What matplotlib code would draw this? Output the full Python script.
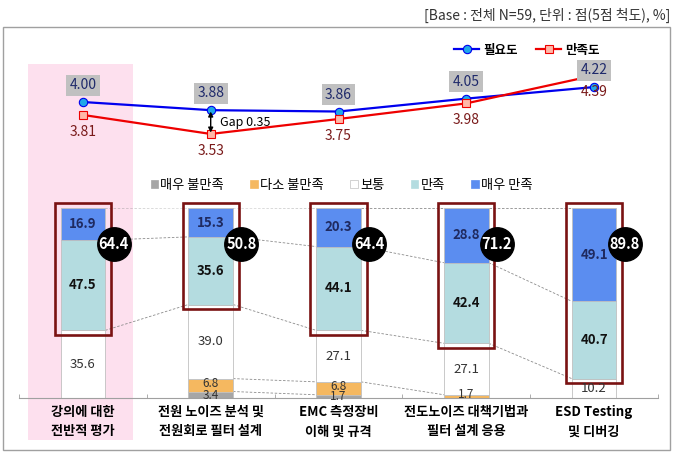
import matplotlib
matplotlib.use("Agg")
import matplotlib.pyplot as plt
import numpy as np
from matplotlib.patches import Rectangle, Patch
import matplotlib.transforms as mtransforms

plt.rcParams['font.family'] = ['Noto Sans CJK KR', 'DejaVu Sans']

# data
categories = ["강의에 대한\n전반적 평가", "전원 노이즈 분석 및\n전원회로 필터 설계",
              "EMC 측정장비\n이해 및 규격", "전도노이즈 대책기법과\n필터 설계 응용",
              "ESD Testing\n및 디버깅"]
need = [4.00, 3.88, 3.86, 4.05, 4.22]
satis = [3.81, 3.53, 3.75, 3.98, 4.39]

series_names = ["매우 불만족", "다소 불만족", "보통", "만족", "매우 만족"]
very_bad = [0, 3.4, 1.7, 0, 0]
bad = [0, 6.8, 6.8, 1.7, 0]
normal = [35.6, 39.0, 27.1, 27.1, 10.2]
good = [47.5, 35.6, 44.1, 42.4, 40.7]
very_good = [16.9, 15.3, 20.3, 28.8, 49.1]
top2 = [64.4, 50.8, 64.4, 71.2, 89.8]

colors = ["#A6A6A6", "#F5B860", "#FFFFFF", "#B4DCE0", "#5B8DF0"]

W, H = 687, 471
fig = plt.figure(figsize=(W / 100, H / 100), dpi=100)

def box(l, t, r, b):
    return [l / W, 1 - b / H, (r - l) / W, (b - t) / H]

# outer frame
fig.patches.append(Rectangle((3 / W, 1 - 450 / H), 667 / W, 423 / H, transform=fig.transFigure,
                             fill=False, edgecolor="#A0A0A0", lw=1.0, zorder=0))
fig.text(670 / W, 1 - 15 / H, "[Base : 전체 N=59, 단위 : 점(5점 척도), %]",
         ha="right", va="center", fontsize=10, color="#333333")

ax = fig.add_axes(box(19, 208, 658, 398), zorder=1)
lax = fig.add_axes(box(19, 60, 658, 150), sharex=ax, zorder=2)
lax.patch.set_visible(False)
ax.patch.set_visible(False)

x = np.arange(len(categories))
w = 0.35

# pink highlight on first category
trans = mtransforms.blended_transform_factory(ax.transData, fig.transFigure)
ax.add_patch(Rectangle((-0.43, 1 - 440 / H), 0.82, 376 / H, transform=trans,
                       facecolor="#FDE0EE", edgecolor="none", zorder=0, clip_on=False))

# stacked bars
stack = [very_bad, bad, normal, good, very_good]
bottom = np.zeros(len(categories))
tops = []
for vals, c in zip(stack, colors):
    vals = np.array(vals)
    ax.bar(x, vals, w, bottom=bottom, color=c, edgecolor="#C0C0C0", lw=0.6, zorder=2)
    tops.append((bottom + vals, vals))
    bottom = bottom + vals

# series lines
for (top, vals) in tops:
    for i in range(len(categories) - 1):
        if vals[i] > 0 and vals[i + 1] > 0:
            ax.plot([x[i] + w / 2, x[i + 1] - w / 2], [top[i], top[i + 1]],
                    ls=(0, (3, 2)), color="#8C8C8C", lw=0.6, zorder=1)

# value labels
for i in range(len(categories)):
    b0 = very_bad[i] + bad[i]
    ax.text(x[i], b0 + normal[i] / 2, f"{normal[i]:.1f}", ha="center", va="center",
            fontsize=9.5, color="#333333", zorder=5)
    ax.text(x[i], b0 + normal[i] + good[i] / 2, f"{good[i]:.1f}", ha="center", va="center",
            fontsize=9.5, fontweight="bold", color="#111111", zorder=5)
    ax.text(x[i], 100 - very_good[i] / 2, f"{very_good[i]:.1f}", ha="center", va="center",
            fontsize=9.5, fontweight="bold", color="#1F2A60", zorder=5)
    if bad[i] > 0:
        ax.text(x[i], very_bad[i] + bad[i] / 2 + 1.0, f"{bad[i]:.1f}", ha="center", va="center",
                fontsize=8.5, color="#333333", zorder=5)
    if very_bad[i] > 0:
        ax.text(x[i], very_bad[i] / 2 - 0.2, f"{very_bad[i]:.1f}", ha="center", va="center",
                fontsize=8.5, color="#333333", zorder=5)
    # red box around top 2
    ax.add_patch(Rectangle((x[i] - w / 2 - 0.045, 100 - top2[i] - 2.5), w + 0.09, top2[i] + 5,
                           fill=False, edgecolor="#7A1212", lw=1.9, zorder=4, clip_on=False))

# black circles with top-2 sums
ax.scatter(x + w / 2 + 0.065, [81] * len(x), s=580, color="black", zorder=6, clip_on=False)
for i in range(len(categories)):
    ax.text(x[i] + w / 2 + 0.065, 81, f"{top2[i]:.1f}", ha="center", va="center",
            fontsize=10.5, fontweight="bold", color="white", zorder=7)

ax.set_xlim(-0.5, 4.5)
ax.set_ylim(0, 100)
for s in ["top", "left", "right"]:
    ax.spines[s].set_visible(False)
ax.spines["bottom"].set_color("#A0A0A0")
ax.set_yticks([])
ax.set_xticks(x)
ax.set_xticklabels(categories, fontsize=9.5, fontweight="bold", linespacing=1.5)
ax.tick_params(axis="x", length=0, pad=5)
ax.set_xticks(np.arange(-0.5, 5, 1), minor=True)
ax.tick_params(axis="x", which="minor", direction="in", length=3, color="#A0A0A0")

handles = [Patch(facecolor=c, edgecolor="#C0C0C0" if c == "#FFFFFF" else c, lw=0.5) for c in colors]
ax.legend(handles, series_names, ncol=5, loc="center", bbox_to_anchor=(0.505, 1.12),
          frameon=False, fontsize=9.5, handlelength=0.55, handleheight=0.55,
          handletextpad=0.2, columnspacing=2.0)

# line chart
lax.plot(x, need, color="#0000EE", lw=1.6, marker="o", ms=6, mfc="#20A8E8", mec="#0000EE",
         mew=0.8, zorder=3, label="필요도")
lax.plot(x, satis, color="#EE0000", lw=1.6, marker="s", ms=6, mfc="#FFB8A8", mec="#EE0000",
         mew=0.8, zorder=3, label="만족도")
lax.set_ylim(3.294, 4.618)
lax.axis("off")
for i in range(len(categories)):
    lax.annotate(f"{need[i]:.2f}", (x[i], need[i]), xytext=(0, 12),
                 textcoords="offset points", ha="center", va="center", fontsize=10,
                 color="#1F2A6B", zorder=5,
                 bbox=dict(boxstyle="square,pad=0.25", fc="#C0C0C0", ec="none"))
    lax.annotate(f"{satis[i]:.2f}", (x[i], satis[i]), xytext=(0, -12),
                 textcoords="offset points", ha="center", va="center", fontsize=10,
                 color="#7A1A1A", zorder=5)

# gap annotation
lax.annotate("", xy=(x[1], satis[1] + 0.02), xytext=(x[1], need[1] - 0.02),
             arrowprops=dict(arrowstyle="<|-|>", color="black", lw=1.0,
                             mutation_scale=7, shrinkA=0, shrinkB=0))
lax.text(x[1] + 0.07, (need[1] + satis[1]) / 2, f"Gap {need[1] - satis[1]:.2f}",
         ha="left", va="center", fontsize=9)

lax.legend(ncol=2, loc="center", bbox_to_anchor=(0.795, 1.11), frameon=False,
           handlelength=2.0, handletextpad=0.3, columnspacing=1.5,
           prop={"weight": "bold", "size": 9})

fig.savefig("out.png", dpi=100)
